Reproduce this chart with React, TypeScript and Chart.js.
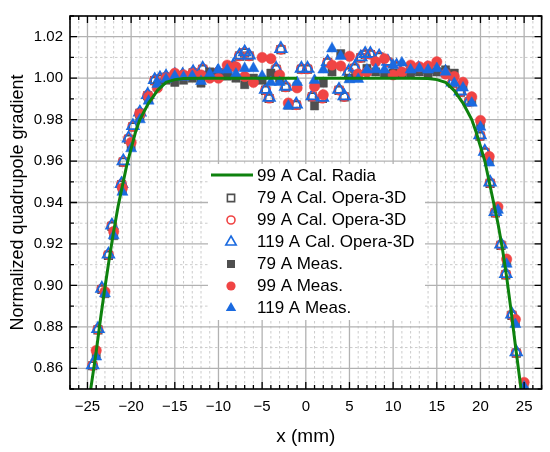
import { useEffect, useRef } from 'react';
import { Chart, registerables, type Plugin } from 'chart.js';

Chart.register(...registerables);

const FONT = "'Liberation Sans', Arial, Helvetica, sans-serif";

const GREEN = '#0e820e';
const GRAY = '#4f4f4f';
const RED = '#f04444';
const BLUE = '#1a6ae0';

// 99 A Cal. Radia (null = gap around x = 0)
const radiaX = [-24.8, -24.0, -23.5, -23.0, -22.5, -22.0, -21.5, -21.0, -20.5, -20.0, -19.5, -19.0, -18.5, -18.0, -17.5, -17.0, -16.5, -16.0, -15.0, -14.0, -12.0, -8.0, -4.0, -1.0, 0, 1.0, 4.0, 8.0, 12.0, 14.0, 15.0, 16.0, 16.5, 17.0, 17.5, 18.0, 18.5, 19.0, 19.5, 20.0, 20.5, 21.0, 21.5, 22.0, 22.5, 23.0, 23.5, 24.0, 24.8];
const radiaY = [0.845, 0.868, 0.884, 0.899, 0.913, 0.926, 0.938, 0.948, 0.958, 0.966, 0.974, 0.98, 0.984, 0.988, 0.991, 0.994, 0.996, 0.998, 0.9993, 0.9998, 1.0, 1.0, 1.0, 1.0, null, 1.0, 1.0, 1.0, 1.0, 0.9998, 0.9993, 0.998, 0.996, 0.994, 0.991, 0.988, 0.984, 0.98, 0.974, 0.967, 0.96, 0.95, 0.94, 0.93, 0.918, 0.904, 0.888, 0.871, 0.845];

// Opera-3D calculations
const calcX = [-24.4, -23.8, -23.35, -22.6, -22.2, -21.1, -20.9, -20.3, -19.8, -19.0, -18.1, -17.3, -16.7, -16.0, -15.0, -14.1, -12.9, -11.8, -10.1, -9.1, -8.3, -7.6, -7.0, -6.5, -4.6, -4.2, -3.4, -2.85, -2.3, -1.1, -0.5, 0.2, 0.75, 1.9, 2.5, 3.8, 4.4, 4.9, 5.6, 6.3, 6.8, 7.4, 8.4, 9.4, 10.4, 11.2, 12.0, 12.9, 13.9, 14.8, 16.0, 16.8, 17.7, 18.7, 19.95, 20.5, 21.1, 21.7, 22.35, 22.9, 23.6, 24.1];
const calc79 = [0.8612, 0.8785, 0.898, 0.9145, 0.9285, 0.9485, 0.9595, 0.9705, 0.9765, 0.983, 0.9915, 0.9988, 0.9996, 1.0004, 1.0012, 1.0012, 1.0026, 1.0043, 1.0026, 1.0026, 1.0056, 1.0106, 1.0122, 1.0106, 0.9941, 0.9902, 1.0043, 1.0138, 0.9956, 0.987, 1.0043, 1.0043, 0.991, 0.9902, 1.0075, 0.9941, 0.991, 1.0028, 1.0048, 1.0098, 1.0114, 1.0114, 1.0102, 1.0076, 1.0056, 1.0046, 1.0036, 1.0043, 1.0043, 1.0043, 1.0026, 0.9976, 0.9933, 0.9886, 0.972, 0.9641, 0.9492, 0.935, 0.9193, 0.9051, 0.8855, 0.8673];
const calc99 = [0.8614, 0.8788, 0.8983, 0.9148, 0.9288, 0.9488, 0.9598, 0.9708, 0.9768, 0.9833, 0.9918, 0.999, 0.9998, 1.0006, 1.0014, 1.0014, 1.0028, 1.0045, 1.0028, 1.0028, 1.0058, 1.0108, 1.0124, 1.0108, 0.9943, 0.9904, 1.0045, 1.014, 0.9958, 0.9872, 1.0045, 1.0045, 0.9912, 0.9904, 1.0077, 0.9943, 0.9912, 1.003, 1.005, 1.01, 1.0116, 1.0116, 1.0104, 1.0078, 1.0058, 1.0048, 1.0038, 1.0045, 1.0045, 1.0045, 1.0028, 0.9978, 0.9935, 0.9888, 0.9723, 0.9644, 0.9495, 0.9353, 0.9196, 0.9054, 0.8858, 0.8676];
const calc119 = [0.8616, 0.879, 0.8985, 0.915, 0.929, 0.949, 0.96, 0.971, 0.977, 0.9835, 0.992, 0.9992, 1.0, 1.0008, 1.0016, 1.0016, 1.003, 1.0047, 1.003, 1.003, 1.006, 1.011, 1.0126, 1.011, 0.9945, 0.9906, 1.0047, 1.0142, 0.996, 0.9874, 1.0047, 1.0047, 0.9914, 0.9906, 1.0079, 0.9945, 0.9914, 1.0032, 1.0052, 1.0102, 1.0118, 1.0118, 1.0106, 1.008, 1.006, 1.005, 1.004, 1.0047, 1.0047, 1.0047, 1.003, 0.998, 0.9937, 0.989, 0.9725, 0.9646, 0.9497, 0.9355, 0.9198, 0.9056, 0.886, 0.8678];

// measurements
const measX = [-24, -23, -22, -21, -20, -19, -18, -17, -16, -15, -14, -13, -12, -11, -10, -9, -8, -7, -6, -5, -4, -3, -2, -1, 1, 2, 3, 4, 5, 6, 7, 8, 9, 10, 11, 12, 13, 14, 15, 16, 17, 18, 19, 20, 21, 22, 23, 24, 25];
const meas79 = [0.867, 0.896, 0.924, 0.946, 0.967, 0.981, 0.99, 0.996, 0.999, 0.998, 0.999, 1.0, 0.9976, 1.003, 1.002, 1.001, 1.0, 0.9969, 1.0, 0.999, 1.0024, 1.0, 0.987, 0.996, 0.9866, 0.9976, 1.003, 1.0118, 1.0, 1.001, 1.0047, 1.003, 1.002, 1.0024, 1.002, 1.002, 1.003, 1.002, 1.003, 1.004, 1.0024, 0.996, 0.989, 0.978, 0.96, 0.937, 0.911, 0.882, 0.852];
const meas99 = [0.8686, 0.897, 0.926, 0.947, 0.969, 0.9827, 0.991, 0.9953, 1.0, 1.0024, 1.0016, 1.002, 1.0016, 1.0, 1.0, 1.0063, 1.0055, 1.0008, 0.998, 1.01, 1.0094, 1.0016, 0.988, 0.9953, 0.996, 0.992, 1.0063, 1.0059, 1.0106, 1.002, 1.003, 1.0079, 1.0094, 1.0016, 1.003, 1.0063, 1.0055, 1.0059, 1.0079, 1.002, 1.0008, 0.998, 0.991, 0.9796, 0.9622, 0.9379, 0.9127, 0.8836, 0.8532];
const meas119 = [0.8655, 0.896, 0.924, 0.945, 0.966, 0.98, 0.989, 0.997, 0.9995, 1.001, 1.0005, 1.001, 0.9985, 1.002, 1.004, 1.004, 1.002, 1.0047, 1.0047, 1.001, 0.998, 0.998, 0.9866, 0.998, 0.999, 1.004, 1.0142, 1.0106, 0.9993, 0.9995, 1.004, 1.0042, 1.004, 1.0063, 1.0074, 1.004, 1.0047, 1.004, 1.0047, 1.003, 0.9976, 0.9953, 0.988, 0.9764, 0.9591, 0.9363, 0.9103, 0.8812, 0.851];

const xTickValues = [-25, -20, -15, -10, -5, 0, 5, 10, 15, 20, 25];
const yTickValues = [0.86, 0.88, 0.9, 0.92, 0.94, 0.96, 0.98, 1.0, 1.02];

const legendLabels = ['99 A Cal. Radia', '79 A Cal. Opera-3D', '99 A Cal. Opera-3D', '119 A Cal. Opera-3D', '79 A Meas.', '99 A Meas.', '119 A Meas.'];

const pts = (xs: number[], ys: (number | null)[]) => xs.map((x, i) => ({ x, y: ys[i] }));

type Shape = 'rect' | 'circle' | 'triangle' | 'line';

function drawMarker(ctx: CanvasRenderingContext2D, shape: Shape, x: number, y: number, r: number, filled: boolean, color: string) {
  ctx.beginPath();
  if (shape === 'rect') {
    ctx.rect(x - r, y - r, 2 * r, 2 * r);
  } else if (shape === 'circle') {
    ctx.arc(x, y, r, 0, Math.PI * 2);
  } else if (shape === 'triangle') {
    const w = r * Math.sin(Math.PI / 3);
    ctx.moveTo(x, y - r);
    ctx.lineTo(x + w, y + r / 2);
    ctx.lineTo(x - w, y + r / 2);
    ctx.closePath();
  }
  if (filled) {
    ctx.fillStyle = color;
    ctx.fill();
  } else {
    ctx.lineWidth = 1.6;
    ctx.strokeStyle = color;
    ctx.stroke();
  }
}

const frame: Plugin = {
  id: 'frame',
  beforeDatasetsDraw(chart) {
    const { ctx, chartArea: a, scales } = chart;
    const sx = scales.x;
    const sy = scales.y;
    ctx.save();
    const vline = (p: number) => { ctx.beginPath(); ctx.moveTo(p, a.top); ctx.lineTo(p, a.bottom); ctx.stroke(); };
    const hline = (p: number) => { ctx.beginPath(); ctx.moveTo(a.left, p); ctx.lineTo(a.right, p); ctx.stroke(); };
    // minor grid
    ctx.setLineDash([2.5, 2.5]);
    ctx.strokeStyle = '#c6c6c6';
    ctx.lineWidth = 0.9;
    for (let v = -27; v <= 27; v++) if (v % 5 !== 0) vline(sx.getPixelForValue(v));
    for (let k = 85; k <= 103; k += 2) hline(sy.getPixelForValue(k / 100));
    // major grid
    ctx.setLineDash([]);
    ctx.strokeStyle = '#b2b2b2';
    ctx.lineWidth = 1.3;
    xTickValues.forEach((v) => vline(sx.getPixelForValue(v)));
    yTickValues.forEach((v) => hline(sy.getPixelForValue(v)));
    ctx.restore();
  },
  afterDatasetsDraw(chart) {
    const { ctx } = chart;
    ctx.save();
    ctx.fillStyle = '#ffffff';
    ctx.fillRect(208, 164, 217, 156);
    const sx = 231;
    const tx = 257;
    const shapes: [Shape, boolean, string, number][] = [
      ['line', true, GREEN, 0],
      ['rect', false, GRAY, 3.6],
      ['circle', false, RED, 4],
      ['triangle', false, BLUE, 6],
      ['rect', true, GRAY, 4],
      ['circle', true, RED, 4.6],
      ['triangle', true, BLUE, 6],
    ];
    ctx.font = `17px ${FONT}`;
    ctx.textBaseline = 'middle';
    legendLabels.forEach((label, i) => {
      const y = 175 + i * 22;
      const [shape, filled, color, r] = shapes[i];
      if (shape === 'line') {
        ctx.beginPath();
        ctx.strokeStyle = color;
        ctx.lineWidth = 3;
        ctx.moveTo(211, y);
        ctx.lineTo(253, y);
        ctx.stroke();
      } else {
        drawMarker(ctx, shape, sx, y + 1, r, filled, color);
      }
      ctx.fillStyle = '#000';
      ctx.fillText(label, tx, y + 1);
    });
    ctx.restore();
  },
  afterDraw(chart) {
    const { ctx, chartArea: a, scales } = chart;
    const sx = scales.x;
    const sy = scales.y;
    ctx.save();
    ctx.strokeStyle = '#000';
    ctx.lineWidth = 1.3;
    ctx.beginPath();
    for (let v = -27; v <= 27; v++) {
      const p = sx.getPixelForValue(v);
      const len = v % 5 === 0 ? 7 : 4;
      ctx.moveTo(p, a.bottom); ctx.lineTo(p, a.bottom - len);
      ctx.moveTo(p, a.top); ctx.lineTo(p, a.top + len);
    }
    for (let k = 85; k <= 103; k++) {
      const p = sy.getPixelForValue(k / 100);
      const len = k % 2 === 0 ? 7 : 4;
      ctx.moveTo(a.left, p); ctx.lineTo(a.left + len, p);
      ctx.moveTo(a.right, p); ctx.lineTo(a.right - len, p);
    }
    ctx.stroke();
    ctx.lineWidth = 1.6;
    ctx.strokeRect(a.left, a.top, a.right - a.left, a.bottom - a.top);
    ctx.restore();
  },
};

export default function App() {
  const canvasRef = useRef<HTMLCanvasElement>(null);

  useEffect(() => {
    document.body.style.margin = '0';
    if (!canvasRef.current) return;
    const open = (c: string) => ({ pointBackgroundColor: 'rgba(0,0,0,0)', pointBorderColor: c, pointBorderWidth: 1.8 });
    const full = (c: string) => ({ pointBackgroundColor: c, pointBorderColor: c, pointBorderWidth: 0.5 });
    const chart = new Chart(canvasRef.current, {
      type: 'scatter',
      data: {
        datasets: [
          { label: legendLabels[0], data: pts(radiaX, radiaY), showLine: true, borderColor: GREEN, borderWidth: 3, pointRadius: 0, spanGaps: false, order: 0 },
          { label: legendLabels[6], data: pts(measX, meas119), pointStyle: 'triangle', pointRadius: 6.4, ...full(BLUE), order: 1 },
          { label: legendLabels[5], data: pts(measX, meas99), pointStyle: 'circle', pointRadius: 5.2, ...full(RED), order: 2 },
          { label: legendLabels[4], data: pts(measX, meas79), pointStyle: 'rect', pointRadius: 5.8, ...full(GRAY), order: 3 },
          { label: legendLabels[3], data: pts(calcX, calc119), pointStyle: 'triangle', pointRadius: 6.6, ...open(BLUE), order: 4 },
          { label: legendLabels[2], data: pts(calcX, calc99), pointStyle: 'circle', pointRadius: 4.6, ...open(RED), order: 5 },
          { label: legendLabels[1], data: pts(calcX, calc79), pointStyle: 'rect', pointRadius: 5.2, ...open(GRAY), order: 6 },
        ],
      },
      options: {
        animation: false,
        responsive: true,
        maintainAspectRatio: false,
        layout: { padding: { top: 8, right: 7, left: 0, bottom: 0 } },
        plugins: { legend: { display: false }, tooltip: { enabled: false } },
        scales: {
          x: {
            type: 'linear',
            min: -27,
            max: 27,
            afterBuildTicks: (s) => { s.ticks = xTickValues.map((value) => ({ value })); },
            afterFit: (s) => { s.height = 63; },
            grid: { display: false, drawTicks: false },
            border: { display: false },
            ticks: {
              padding: 9,
              color: '#000',
              font: { family: FONT, size: 15 },
              maxRotation: 0,
              autoSkip: false,
              callback: (v) => (Number(v) < 0 ? '\u2212' + Math.abs(Number(v)) : String(v)),
            },
            title: { display: true, text: 'x (mm)', color: '#000', font: { family: FONT, size: 19 }, padding: { top: 0, bottom: 4 } },
          },
          y: {
            type: 'linear',
            min: 0.85,
            max: 1.03,
            afterBuildTicks: (s) => { s.ticks = yTickValues.map((value) => ({ value })); },
            afterFit: (s) => { s.width = 70; },
            grid: { display: false, drawTicks: false },
            border: { display: false },
            ticks: {
              padding: 7,
              color: '#000',
              font: { family: FONT, size: 15 },
              autoSkip: false,
              callback: (v) => Number(v).toFixed(2),
            },
            title: { display: true, text: 'Normalized quadrupole gradient', color: '#000', font: { family: FONT, size: 18 }, padding: { top: 7, bottom: 0 } },
          },
        },
      },
      plugins: [frame],
    });
    return () => chart.destroy();
  }, []);

  return (
    <div style={{ position: 'relative', width: 550, height: 452 }}>
      <canvas ref={canvasRef}></canvas>
    </div>
  );
}
